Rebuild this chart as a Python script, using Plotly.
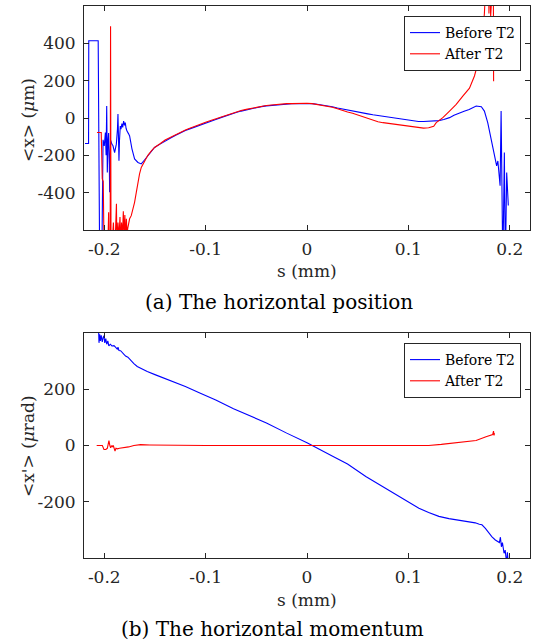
import plotly.graph_objects as go

# ---------------- data ----------------
# (a) horizontal position <x> (um) vs s (mm)
pos_before_s = [-0.2190, -0.2155, -0.2153, -0.2060, -0.2045, -0.2025, -0.2012, -0.2000, -0.1989, -0.1982,
                -0.1976, -0.1970, -0.1963, -0.1957, -0.1950, -0.1947, -0.1942, -0.1937, -0.1925, -0.1914,
                -0.1898, -0.1888, -0.1881, -0.1870, -0.1865, -0.1860, -0.1855, -0.1850, -0.1842, -0.1835,
                -0.1826, -0.1818, -0.1809, -0.1800, -0.1793, -0.1785, -0.1777, -0.1760, -0.1750, -0.1727,
                -0.1701, -0.1668, -0.1635, -0.1603, -0.1570, -0.1537, -0.1504,
                -0.145, -0.140, -0.135, -0.130, -0.125, -0.120, -0.115, -0.110, -0.105, -0.100,
                -0.095, -0.090, -0.085, -0.080, -0.075, -0.070, -0.065, -0.060, -0.055, -0.050,
                -0.045, -0.040, -0.035, -0.030, -0.025, -0.020, -0.015, -0.010, -0.005, 0.000,
                0.005, 0.010, 0.015, 0.020, 0.025, 0.030, 0.035, 0.040, 0.045, 0.050,
                0.055, 0.060, 0.065, 0.070, 0.075, 0.080, 0.085, 0.090, 0.095, 0.100,
                0.105, 0.110, 0.115, 0.120, 0.125, 0.130, 0.135, 0.1406, 0.145, 0.150,
                0.155, 0.160, 0.1669, 0.1720, 0.1750, 0.1783, 0.1816, 0.1849, 0.1871, 0.1883,
                0.1905, 0.1915, 0.1923, 0.1932, 0.1947, 0.1957, 0.1970, 0.1986]
pos_before_x = [-137, -137, 414, 414, -800, -800, -117, -150, -78, -200,
                64, -292, -120, -80, -250, -398, -200, -120, -140, -149,
                -185, -160, -140, -60, 21, -100, -229, -120, -43, -60,
                -30, -50, -16, -40, -25, -55, -69, -85, -96, -165,
                -219, -238, -246, -225, -203, -176, -158,
                -140, -123, -108, -94, -80, -67, -57, -48, -37, -27,
                -18, -8, 2, 12, 21, 29, 37, 44, 50, 56,
                61, 65, 68, 71, 73, 75, 76, 77, 78, 78,
                77, 74, 70, 66, 60, 54, 48, 42, 37, 32,
                27, 22, 17, 13, 9, 5, 1, -3, -7, -12,
                -16, -19, -19, -18, -17, -14, -8, 2, 15, 27,
                36, 45, 64, 60, 37, -25, -114, -185, -256, -230,
                -363, 37, -350, -800, -185, -800, -292, -469]

pos_after_s = [-0.2072, -0.2030, -0.2020, -0.2010, -0.2000, -0.1985, -0.1965, -0.1957, -0.1950, -0.1942,
               -0.1938, -0.1933, -0.1920, -0.1910, -0.1900, -0.1890, -0.1880, -0.1875, -0.1865, -0.1855,
               -0.1845, -0.1838, -0.1830, -0.1820, -0.1812, -0.1805, -0.1797, -0.1790, -0.1782, -0.1775,
               -0.1768, -0.1760, -0.1750, -0.1734, -0.1717, -0.1701, -0.1684, -0.1668, -0.1652, -0.1635,
               -0.1603, -0.1570, -0.1537, -0.1504,
               -0.145, -0.140, -0.135, -0.130, -0.125, -0.120, -0.115, -0.110, -0.105, -0.100,
               -0.095, -0.090, -0.085, -0.080, -0.075, -0.070, -0.065, -0.060, -0.055, -0.050,
               -0.045, -0.040, -0.035, -0.030, -0.025, -0.020, -0.015, -0.010, -0.005, 0.000,
               0.005, 0.010, 0.015, 0.020, 0.025, 0.030, 0.035, 0.040, 0.045, 0.050,
               0.055, 0.060, 0.065, 0.070, 0.075, 0.080, 0.085, 0.090, 0.095, 0.100,
               0.105, 0.110, 0.115, 0.120, 0.125, 0.1275, 0.134, 0.1406, 0.1472, 0.1537,
               0.1603, 0.1652, 0.1684, 0.1708, 0.1730, 0.1750, 0.1770, 0.1790, 0.1795, 0.1800,
               0.1812, 0.1820, 0.1838, 0.1841]
pos_after_x = [-78, -78, -326, -340, -800, -800, -700, -505, -800, -800,
               491, -800, -650, -560, -700, -620, -459, -700, -560, -640,
               -530, -680, -560, -620, -500, -640, -520, -660, -540, -620,
               -590, -560, -540, -523, -490, -452, -398, -345, -299, -265,
               -229, -200, -178, -158,
               -138, -118, -104, -90, -78, -64, -54, -45, -34, -23,
               -13, -4, 6, 16, 24, 32, 40, 46, 52, 58,
               63, 67, 70, 73, 75, 77, 77, 78, 79, 79,
               77, 73, 69, 64, 58, 50, 40, 32, 25, 16,
               6, -4, -14, -20, -25, -29, -33, -37, -41, -45,
               -49, -53, -54, -52, -44, -25, 2, 37, 73, 117,
               160, 225, 290, 360, 430, 560, 800, 800, 560, 800,
               545, 800, 800, 197]

# (b) horizontal momentum <x'> (urad) vs s (mm)
mom_before_s = [-0.2057, -0.2052, -0.2045, -0.2038, -0.2030, -0.2020, -0.2010, -0.2003, -0.1995, -0.1985,
                -0.1976, -0.1965, -0.1955, -0.1940, -0.1925, -0.1904, -0.1885, -0.1870, -0.1865, -0.1855,
                -0.1839, -0.1820, -0.1805, -0.1790, -0.1767, -0.1740, -0.1708, -0.1675, -0.1642, -0.1610,
                -0.1576, -0.150, -0.138, -0.120, -0.1052, -0.090, -0.0725, -0.055, -0.040, -0.020,
                0.000, 0.0253, 0.040, 0.058, 0.075, 0.0908, 0.100, 0.1104, 0.120, 0.1301,
                0.140, 0.1497, 0.160, 0.166, 0.170, 0.1726, 0.176, 0.1792, 0.1825, 0.1858,
                0.1880, 0.1898, 0.1908, 0.1918, 0.1928, 0.1944, 0.1955, 0.1964, 0.1970, 0.1977,
                0.1986]
mom_before_x = [420, 365, 395, 372, 392, 368, 385, 390, 365, 380,
                360, 372, 354, 360, 354, 355, 348, 342, 350, 338,
                337, 330, 325, 318, 314, 303, 291, 281, 274, 268,
                263, 252, 236, 210, 186, 162, 131, 103, 80, 44,
                10, -38, -66, -110, -146, -181, -198, -223, -238, -252,
                -260, -266, -271, -275, -280, -282, -295, -312, -325, -336,
                -342, -345, -326, -360, -345, -383, -372, -395, -420, -380,
                -420]

mom_after_s = [-0.2075, -0.2019, -0.2003, -0.1985, -0.1970, -0.1954, -0.1945, -0.1937, -0.1925, -0.1918,
               -0.1911, -0.1894, -0.1885, -0.1871, -0.1850, -0.1806, -0.1760, -0.1708, -0.1642, -0.1550,
               -0.140, -0.100, -0.050, 0.000, 0.050, 0.100, 0.120, 0.1325, 0.1406, 0.1570,
               0.1668, 0.1766, 0.1832, 0.1840, 0.1845, 0.1850]
mom_after_x = [0, 0, -14, -14, -10, 17, 0, -8, 0, -5,
               0, -20, -10, -12, -10, -8, -5, 0, 3, 2,
               1, 0, 0, 0, -1, -1, 0, 4, 7, 12,
               18, 31, 39, 51, 36, 44]

x_tick_vals = [-0.2, -0.1, 0, 0.1, 0.2]
x_tick_text = ["-0.2", "-0.1", "0", "0.1", "0.2"]
pos_tick_vals = [-400, -200, 0, 200, 400]
pos_tick_text = ["-400", "-200", "0", "200", "400"]
mom_tick_vals = [-200, 0, 200]
mom_tick_text = ["-200", "0", "200"]
series_names = ["Before T2", "After T2"]
series_colors = ["#0000FF", "#FF0000"]

# ---------------- figure ----------------
W, H = 536, 643
FONT = "DejaVu Serif"
AX = "#262626"

fig = go.Figure()
fig.add_trace(go.Scatter(x=pos_before_s, y=pos_before_x, mode="lines", name=series_names[0],
                         line=dict(color=series_colors[0], width=1.1), xaxis="x", yaxis="y", legend="legend"))
fig.add_trace(go.Scatter(x=pos_after_s, y=pos_after_x, mode="lines", name=series_names[1],
                         line=dict(color=series_colors[1], width=1.1), xaxis="x", yaxis="y", legend="legend"))
fig.add_trace(go.Scatter(x=mom_before_s, y=mom_before_x, mode="lines", name=series_names[0],
                         line=dict(color=series_colors[0], width=1.1), xaxis="x2", yaxis="y2", legend="legend2"))
fig.add_trace(go.Scatter(x=mom_after_s, y=mom_after_x, mode="lines", name=series_names[1],
                         line=dict(color=series_colors[1], width=1.1), xaxis="x2", yaxis="y2", legend="legend2"))

xdom = [84 / W, 530 / W]
common = dict(showgrid=False, zeroline=False, showline=True, mirror="ticks", linecolor=AX, linewidth=1,
              ticks="inside", ticklen=5, tickcolor=AX, tickwidth=1,
              tickfont=dict(family=FONT, size=17, color=AX))

fig.update_layout(
    width=W, height=H, margin=dict(l=0, r=0, t=0, b=0),
    paper_bgcolor="white", plot_bgcolor="white",
    xaxis=dict(domain=xdom, range=[-0.22, 0.22], tickvals=x_tick_vals, ticktext=x_tick_text,
               anchor="y", ticklabelstandoff=4, **common),
    yaxis=dict(domain=[1 - 230 / H, 1 - 6 / H], range=[-600, 600], tickvals=pos_tick_vals,
               ticktext=pos_tick_text, anchor="x", ticklabelstandoff=4, **common),
    xaxis2=dict(domain=xdom, range=[-0.22, 0.22], tickvals=x_tick_vals, ticktext=x_tick_text,
                anchor="y2", ticklabelstandoff=4, **common),
    yaxis2=dict(domain=[1 - 558 / H, 1 - 333 / H], range=[-400, 400], tickvals=mom_tick_vals,
                ticktext=mom_tick_text, anchor="x2", ticklabelstandoff=4, **common),
    legend=dict(x=521 / W, xanchor="right", y=1 - 16 / H, yanchor="top", bgcolor="white",
                bordercolor=AX, borderwidth=1, font=dict(family=FONT, size=14, color="black"),
                itemwidth=30, tracegroupgap=0),
    legend2=dict(x=521 / W, xanchor="right", y=1 - 343 / H, yanchor="top", bgcolor="white",
                 bordercolor=AX, borderwidth=1, font=dict(family=FONT, size=14, color="black"),
                 itemwidth=30, tracegroupgap=0),
    showlegend=True,
)

ann_font = dict(family=FONT, size=17, color=AX)
cap_font = dict(family=FONT, size=20, color="black")
annotations = [
    dict(text="s (mm)", x=307 / W, y=1 - 271 / H, font=ann_font),
    dict(text="&lt;x&gt; (<i>μ</i>m)", x=28 / W, y=1 - 120 / H, textangle=-90, font=ann_font),
    dict(text="(a) The horizontal position", x=278.5 / W, y=1 - 302 / H, font=cap_font),
    dict(text="s (mm)", x=307 / W, y=1 - 600 / H, font=ann_font),
    dict(text="&lt;x'&gt; (<i>μ</i>rad)", x=28 / W, y=1 - 446 / H, textangle=-90, font=ann_font),
    dict(text="(b) The horizontal momentum", x=272.5 / W, y=1 - 629 / H, font=cap_font),
]
for a in annotations:
    fig.add_annotation(xref="paper", yref="paper", showarrow=False, xanchor="center", yanchor="middle", **a)

fig.write_html("out.html", config={"displayModeBar": False},
               post_script="document.body.style.margin='0px';document.body.style.overflow='hidden';")
